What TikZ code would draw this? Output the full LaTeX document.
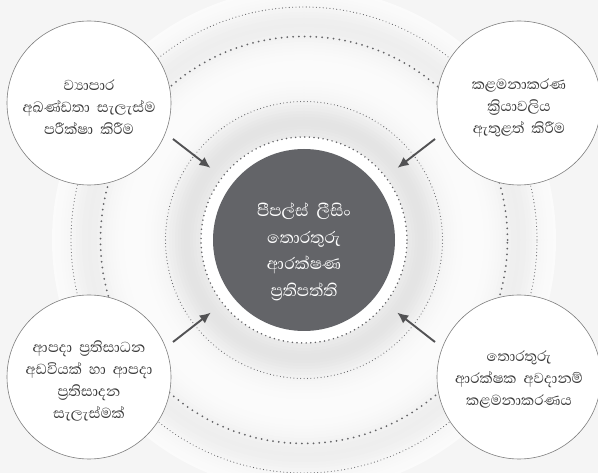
\documentclass[tikz,border=0pt]{standalone}
\usepackage{fontspec}
\newfontfamily\sinhala[Script=Sinhala,WordSpace=2]{Abhaya Libre}
\definecolor{CoreGray} {RGB}{99,100,104}
\definecolor{DotGray}  {RGB}{100,100,103}
\definecolor{RimGray}  {RGB}{125,125,125}
\definecolor{ArrowGray}{RGB}{82,82,84}
\definecolor{TextGray} {RGB}{58,58,58}
\usetikzlibrary{arrows.meta,calc}

\begin{document}
\begin{tikzpicture}[x=1pt,y=-1pt,
  topic/.style={circle,draw=RimGray,line width=0.6pt,fill=white,
    minimum size=164pt,inner sep=0pt},
  topictext/.style={align=center,text=TextGray,
    font=\sinhala\fontsize{18.5}{22}\selectfont},
  core/.style={circle,fill=CoreGray,minimum size=182pt,inner sep=0pt},
  coretext/.style={align=center,text=white,
    font=\sinhala\fontsize{21}{26.5}\selectfont},
  fine/.style={DotGray,line width=1.1pt,line cap=round,
    dash pattern=on 0pt off 3.4pt},
  coarse/.style={DotGray,line width=2pt,line cap=round,
    dash pattern=on 0pt off 5.8pt},
  arr/.style={ArrowGray,line width=1.9pt,-{Latex[length=11pt,width=10pt]}}]
  \useasboundingbox (0,0) rectangle (598,473);
  \fill[black!4] (0,0) rectangle (598,473);
  \coordinate (mid) at (304,240);
  % Soft grey glow round the rings
  \foreach \r in {252,249,...,105}{
    \pgfmathsetmacro\g{1.5+9*exp(-min(((\r-118)/22)^2,20))
                       +5*exp(-min(((\r-216)/20)^2,20))}
    \fill[black!\g] (mid) circle (\r pt);
  }
  % Rings
  \draw[fine]   (mid) circle (233pt);
  \draw[coarse] (mid) circle (203.5pt);
  \draw[fine]   (mid) circle (138.5pt);
  \fill[white]  (mid) circle (103pt);
  \draw[coarse,line width=1.7pt,dash pattern=on 0pt off 4.6pt]
       (mid) circle (103pt);
  % Centre
  \node[core] (core) at (mid) {};
  \node[coretext] (coreText) at ($(core)+(0,12)$)
       {පීපල්ස් ලීසිං\\තොරතුරු\\ආරක්ෂණ\\ප්^^^^200dරතිපත්ති};
  % Topics
  \node[topic] (tl) at (89,103) {};
  \node[topic] (tr) at (519,103) {};
  \node[topic] (bl) at (89,377) {};
  \node[topic] (br) at (519,377) {};
  \node[topictext] (tlText) at ($(tl)+(0,4)$)
       {ව්^^^^200dයාපාර\\අඛණ්ඩතා සැලැස්ම\\පරීක්ෂා කිරීම};
  \node[topictext] (trText) at ($(tr)+(0,5)$)
       {කළමනාකරණ\\ක්^^^^200dරියාවලිය\\ඇතුළත් කිරීම};
  \node[topictext] (blText) at ($(bl)+(0,4)$)
       {ආපදා ප්^^^^200dරතිසාධන\\අඩවියක් හා ආපදා\\ප්^^^^200dරතිසාදන\\සැලැස්මක්};
  \node[topictext] (brText) at ($(br)+(0,2)$)
       {තොරතුරු\\ආරක්ෂක අවදානම්\\කළමනාකරණය};
  % Arrows
  \coordinate (tlFoot) at (173,139);
  \coordinate (trFoot) at (435,139);
  \coordinate (blFoot) at (173,342);
  \coordinate (brFoot) at (435,342);
  \foreach \f in {tlFoot,trFoot,blFoot,brFoot}
    \draw[arr,shorten >=27pt] (\f) -- (core);
\end{tikzpicture}
\end{document}
